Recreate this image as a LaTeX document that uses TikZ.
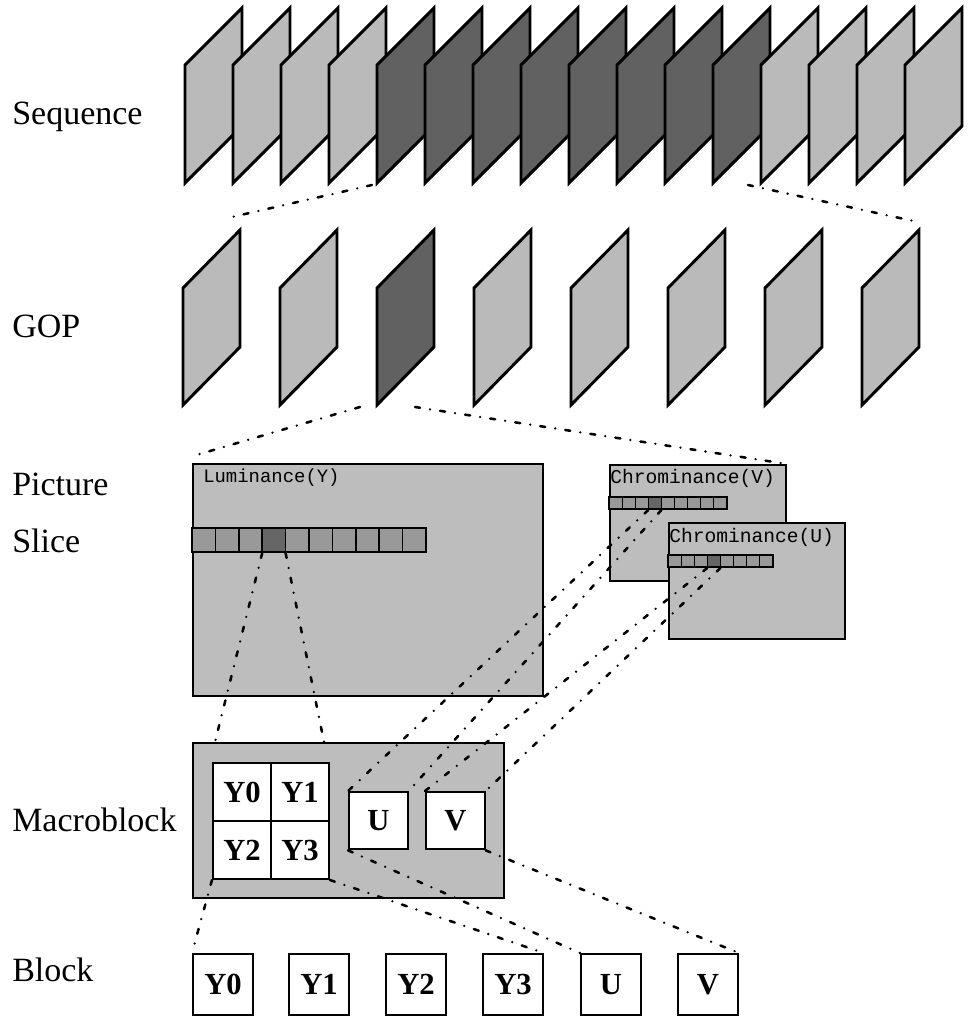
\documentclass[tikz,border=0pt]{standalone}
\usepackage{fontspec}
\setmainfont{Liberation Serif}
\setmonofont{Liberation Mono}
\definecolor{lightfr}{gray}{0.73}
\definecolor{darkfr}{gray}{0.38}
\definecolor{picfill}{gray}{0.74}
\definecolor{cellfill}{gray}{0.60}
\definecolor{celldark}{gray}{0.40}
\begin{document}
\begin{tikzpicture}[x=0.75pt,y=-0.75pt,
  frame/.style={draw=black,line width=2.2pt,line join=miter,fill=lightfr},
  picbox/.style={draw=black,line width=1.6pt,fill=picfill,inner sep=0pt,anchor=north west},
  cell/.style={draw=black,line width=1.1pt,fill=cellfill},
  wbox/.style={draw=black,line width=1.5pt,fill=white,inner sep=0pt,anchor=north west,
    font=\fontsize{23pt}{26pt}\selectfont\bfseries},
  lab/.style={inner sep=0pt,anchor=base west,font=\fontsize{25.5pt}{30pt}\selectfont},
  mono/.style={inner sep=0pt,anchor=base west,font=\fontsize{14.2pt}{16pt}\selectfont\ttfamily},
  cmono/.style={mono,font=\fontsize{14.7pt}{16pt}\selectfont\ttfamily},
  link/.style={line width=1.9pt,line cap=round,dash pattern=on 3.8pt off 7.6pt on 0pt off 7.6pt}]
\path[use as bounding box] (0,0) rectangle (976,1023);

% level labels
\node[lab] (tSeq) at (12,125) {Sequence};
\node[lab] (tGop) at (12,337) {GOP};
\node[lab] (tPic) at (12,495) {Picture};
\node[lab] (tSlc) at (12,552) {Slice};
\node[lab] (tMb)  at (12,831) {Macroblock};
\node[lab] (tBlk) at (12,981) {Block};

% sequence of frames, the middle eight form one GOP
\foreach \i in {0,...,15}{
  \pgfmathsetmacro\L{185+48*\i}
  \pgfmathtruncatemacro\dk{and(\i>3,\i<12)}
  \ifnum\dk=1 \def\fc{darkfr}\else\def\fc{lightfr}\fi
  \draw[frame,fill=\fc] (\L,65) -- ++(57,-57) -- ++(0,118) -- ++(-57,57) -- cycle;
}
% GOP frames, the third one is expanded below
\foreach \i in {0,...,7}{
  \pgfmathsetmacro\L{183+97*\i}
  \ifnum\i=2 \def\fc{darkfr}\else\def\fc{lightfr}\fi
  \draw[frame,fill=\fc] (\L,288) -- ++(57,-58) -- ++(0,117) -- ++(-57,58) -- cycle;
}
\coordinate (seqL) at (372,185);
\coordinate (seqR) at (748,185);
\coordinate (gopL) at (232,217);
\coordinate (gopR) at (918,222);
\coordinate (gpL) at (360,407);
\coordinate (gpR) at (415,407);
\coordinate (picL) at (193,456);

% luminance plane with one slice
\node[picbox,minimum width=262.5pt,minimum height=174pt] (lum) at (192,463) {};
\node[mono] (lumT) at (203,482) {Luminance(Y)};
\foreach \k in {0,...,9}{
  \ifnum\k=3 \def\cf{celldark}\else\def\cf{cellfill}\fi
  \draw[cell,fill=\cf] (192+23.4*\k,528) rectangle ++(23.4,24);
}
\draw[line width=1.6pt] (192,528) rectangle (426,552);
\coordinate (ls3sw) at (262.2,553);
\coordinate (ls3se) at (285.6,553);

% chrominance planes
\node[picbox,minimum width=132pt,minimum height=87pt] (chV) at (609,464) {};
\node[cmono] (chVT) at (610,483) {Chrominance(V)};
\foreach \k in {0,...,8}{
  \ifnum\k=3 \def\cf{celldark}\else\def\cf{cellfill}\fi
  \draw[cell,line width=0.8pt,fill=\cf] (609+13.1*\k,497) rectangle ++(13.1,12);
}
\draw[line width=1.5pt] (609,497) rectangle (726.9,509);
\coordinate (vs3sw) at (648.3,510);
\coordinate (vs3se) at (661.4,510);

\node[picbox,minimum width=132pt,minimum height=87pt] (chU) at (668,522) {};
\node[cmono] (chUT) at (669,542) {Chrominance(U)};
\foreach \k in {0,...,7}{
  \ifnum\k=3 \def\cf{celldark}\else\def\cf{cellfill}\fi
  \draw[cell,line width=0.8pt,fill=\cf] (668+13.1*\k,555) rectangle ++(13.1,12);
}
\draw[line width=1.5pt] (668,555) rectangle (772.8,567);
\coordinate (us3sw) at (707.3,568);
\coordinate (us3se) at (720.4,568);

% macroblock
\node[picbox,minimum width=233.25pt,minimum height=116.25pt] (mb) at (192,742) {};
\node[wbox,minimum size=43.5pt] (mY0) at (212,762) {Y0};
\node[wbox,minimum size=43.5pt] (mY1) at (270,762) {Y1};
\node[wbox,minimum size=43.5pt] (mY2) at (212,820) {Y2};
\node[wbox,minimum size=43.5pt] (mY3) at (270,820) {Y3};
\node[wbox,minimum width=44pt,minimum height=43pt] (mU) at (348,791) {U};
\node[wbox,minimum width=44pt,minimum height=43pt] (mV) at (425,791) {V};
\coordinate (mbA) at (215,742);
\coordinate (mbB) at (324,742);

% blocks
\foreach \n/\x/\t in {b0/192/Y0,b1/288/Y1,b2/385/Y2,b3/482/Y3,b4/580/U,b5/677/V}{
  \node[wbox,minimum width=45pt,minimum height=45.75pt] (\n) at (\x,953) {\t};
}

% connectors between levels
\draw[link] (seqL) -- (gopL);
\draw[link] (seqR) -- (gopR);
\draw[link] (gpL) -- (picL);
\draw[link] (gpR) -- (chV.north east);
\draw[link] (ls3sw) -- (mbA);
\draw[link] (ls3se) -- (mbB);
\draw[link] (vs3sw) -- (mU.north west);
\draw[link] (vs3se) -- (mU.north east);
\draw[link] (us3sw) -- (mV.north west);
\draw[link] (us3se) -- (mV.north east);
\draw[link] (mY2.south west) -- (b0.north west);
\draw[link] (mY3.south east) -- (b3.north east);
\draw[link] (mU.south west) -- (b4.north west);
\draw[link] (mV.south east) -- (b5.north east);
\end{tikzpicture}
\end{document}
